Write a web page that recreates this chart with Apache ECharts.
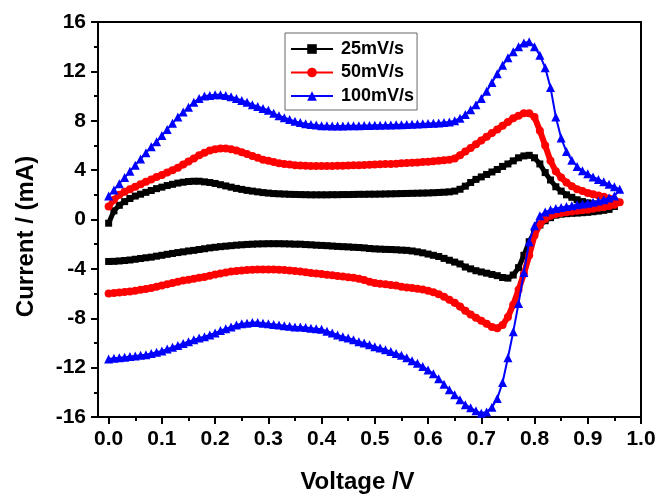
<!DOCTYPE html>
<html><head><meta charset="utf-8">
<script src="https://cdn.jsdelivr.net/npm/echarts@6/dist/echarts.min.js"></script>
<style>html,body{margin:0;padding:0;background:#fff}#c{width:659px;height:494px}</style>
</head><body><div id="c"></div>
<script>
const voltage = [0.00,0.01,0.02,0.03,0.04,0.05,0.06,0.07,0.08,0.09,0.10,0.11,0.12,0.13,0.14,0.15,0.16,0.17,0.18,0.19,0.20,0.21,0.22,0.23,0.24,0.25,0.26,0.27,0.28,0.29,0.30,0.31,0.32,0.33,0.34,0.35,0.36,0.37,0.38,0.39,0.40,0.41,0.42,0.43,0.44,0.45,0.46,0.47,0.48,0.49,0.50,0.51,0.52,0.53,0.54,0.55,0.56,0.57,0.58,0.59,0.60,0.61,0.62,0.63,0.64,0.65,0.66,0.67,0.68,0.69,0.70,0.71,0.72,0.73,0.74,0.75,0.76,0.77,0.78,0.79,0.80,0.81,0.82,0.83,0.84,0.85,0.86,0.87,0.88,0.89,0.90,0.91,0.92,0.93,0.94,0.95,0.96];

// 25 mV/s : anodic sweep 0.00 -> 0.95 V, cathodic sweep 0.94 -> 0.00 V
const black25Forward = [-0.3,0.7,1.15,1.45,1.7,1.9,2.05,2.2,2.35,2.5,2.62,2.75,2.85,2.95,3.02,3.08,3.1,3.1,3.05,3.0,2.92,2.82,2.72,2.62,2.52,2.44,2.36,2.3,2.24,2.18,2.14,2.1,2.08,2.06,2.04,2.03,2.02,2.01,2.0,2.0,2.0,2.0,2.01,2.01,2.02,2.02,2.03,2.04,2.04,2.05,2.05,2.06,2.07,2.08,2.09,2.1,2.11,2.12,2.13,2.14,2.15,2.17,2.19,2.21,2.24,2.3,2.45,2.7,3.0,3.25,3.45,3.65,3.85,4.05,4.3,4.5,4.75,5.0,5.15,5.2,5.0,4.5,3.8,3.2,2.65,2.3,2.0,1.8,1.6,1.45,1.35,1.27,1.2,1.15,1.1,1.05];
const black25Reverse = [0.82,0.74,0.68,0.63,0.58,0.55,0.52,0.5,0.47,0.43,0.35,0.15,-0.1,-0.45,-1.0,-1.8,-2.9,-3.9,-4.5,-4.75,-4.7,-4.55,-4.45,-4.35,-4.25,-4.15,-4.0,-3.85,-3.6,-3.45,-3.3,-3.15,-3.0,-2.9,-2.8,-2.7,-2.62,-2.55,-2.5,-2.48,-2.45,-2.43,-2.42,-2.4,-2.38,-2.35,-2.3,-2.27,-2.25,-2.22,-2.2,-2.18,-2.15,-2.12,-2.1,-2.08,-2.05,-2.03,-2.0,-2.0,-1.98,-1.97,-1.96,-1.96,-1.96,-1.97,-1.98,-2.0,-2.02,-2.05,-2.08,-2.12,-2.16,-2.2,-2.25,-2.3,-2.37,-2.43,-2.5,-2.55,-2.62,-2.68,-2.75,-2.82,-2.9,-2.97,-3.05,-3.1,-3.16,-3.22,-3.28,-3.32,-3.36,-3.39,-3.4];

// 50 mV/s : anodic 0.00 -> 0.96 V, cathodic 0.95 -> 0.00 V
const red50Forward = [1.05,1.6,2.0,2.25,2.45,2.65,2.85,3.05,3.25,3.45,3.6,3.8,4.0,4.2,4.45,4.7,4.95,5.2,5.4,5.6,5.7,5.75,5.75,5.7,5.6,5.45,5.3,5.15,5.0,4.85,4.75,4.65,4.55,4.5,4.45,4.4,4.37,4.35,4.33,4.33,4.33,4.33,4.34,4.35,4.36,4.37,4.39,4.4,4.42,4.43,4.45,4.47,4.49,4.5,4.52,4.55,4.57,4.6,4.62,4.65,4.68,4.71,4.75,4.8,4.85,4.95,5.2,5.5,5.8,6.1,6.4,6.7,7.0,7.3,7.6,7.9,8.2,8.4,8.6,8.6,8.3,7.2,6.0,4.75,3.9,3.4,3.0,2.7,2.45,2.3,2.15,2.05,1.95,1.85,1.7,1.55,1.4];
const red50Reverse = [1.2,1.1,1.0,0.95,0.88,0.8,0.75,0.7,0.65,0.58,0.52,0.45,0.3,0.05,-0.4,-1.3,-2.9,-4.4,-5.7,-6.9,-7.9,-8.55,-8.8,-8.7,-8.45,-8.2,-7.95,-7.7,-7.4,-7.05,-6.75,-6.5,-6.25,-6.05,-5.9,-5.78,-5.68,-5.6,-5.55,-5.5,-5.45,-5.35,-5.3,-5.25,-5.2,-5.15,-5.05,-4.9,-4.8,-4.72,-4.67,-4.62,-4.57,-4.52,-4.47,-4.42,-4.38,-4.33,-4.28,-4.22,-4.17,-4.13,-4.1,-4.08,-4.06,-4.05,-4.05,-4.05,-4.07,-4.1,-4.13,-4.17,-4.22,-4.3,-4.38,-4.45,-4.55,-4.65,-4.72,-4.8,-4.88,-4.95,-5.05,-5.15,-5.25,-5.35,-5.45,-5.55,-5.63,-5.7,-5.77,-5.83,-5.88,-5.92,-5.96,-6.0];

// 100 mV/s : anodic 0.00 -> 0.96 V, cathodic 0.95 -> 0.00 V
const blue100Forward = [1.9,2.4,2.9,3.4,3.9,4.4,4.9,5.4,5.9,6.3,6.8,7.3,7.8,8.3,8.7,9.1,9.5,9.8,10.0,10.05,10.1,10.1,10.05,9.95,9.8,9.65,9.5,9.3,9.15,9.0,8.85,8.6,8.4,8.25,8.1,7.95,7.85,7.75,7.7,7.65,7.6,7.6,7.58,7.58,7.58,7.6,7.6,7.6,7.62,7.62,7.63,7.64,7.65,7.66,7.67,7.68,7.7,7.72,7.73,7.75,7.77,7.8,7.82,7.85,7.9,8.0,8.2,8.5,8.9,9.3,9.8,10.4,11.1,11.8,12.5,13.1,13.6,14.0,14.3,14.4,14.0,13.3,12.3,10.7,8.3,6.6,5.5,4.8,4.3,3.95,3.7,3.45,3.25,3.05,2.85,2.65,2.45];
const blue100Reverse = [1.9,1.75,1.6,1.5,1.4,1.32,1.25,1.2,1.12,1.05,0.98,0.9,0.78,0.6,0.3,-0.5,-1.8,-4.3,-6.8,-9.1,-11.2,-13.2,-14.5,-15.2,-15.6,-15.7,-15.5,-15.25,-15.0,-14.6,-14.2,-13.8,-13.35,-12.9,-12.5,-12.2,-11.9,-11.65,-11.45,-11.2,-11.0,-10.85,-10.7,-10.55,-10.4,-10.3,-10.15,-10.0,-9.9,-9.75,-9.6,-9.5,-9.35,-9.2,-9.05,-8.9,-8.85,-8.8,-8.75,-8.7,-8.7,-8.65,-8.6,-8.55,-8.5,-8.45,-8.4,-8.35,-8.35,-8.4,-8.45,-8.55,-8.7,-8.85,-9.0,-9.2,-9.35,-9.5,-9.6,-9.75,-9.9,-10.05,-10.2,-10.35,-10.5,-10.65,-10.75,-10.85,-10.95,-11.0,-11.05,-11.1,-11.15,-11.2,-11.25,-11.3];

const xMajorTicks = [0.0,0.1,0.2,0.3,0.4,0.5,0.6,0.7,0.8,0.9,1.0];
const xMinorTicks = [0.05,0.15,0.25,0.35,0.45,0.55,0.65,0.75,0.85,0.95];
const seriesNames = ['25mV/s','50mV/s','100mV/s'];

function loop(fwd, rev) {
  const f = fwd.map((v, i) => [voltage[i], v]);
  const rv = voltage.slice(0, rev.length).reverse();
  const r = rev.map((v, i) => [rv[i], v]);
  return f.concat(r);
}

const FONT = '"Liberation Sans", Arial, sans-serif';
const chart = echarts.init(document.getElementById('c'), null, {renderer: 'canvas'});
const axisLineStyle = {color: '#000', width: 2};

chart.setOption({
  animation: false,
  backgroundColor: '#fff',
  grid: {left: 98, right: 18, top: 22, bottom: 77, outerBoundsMode: 'none', containLabel: false,
    show: true, borderColor: '#000', borderWidth: 2, backgroundColor: 'transparent'},
  legend: {
    orient: 'vertical', left: 285, top: 33,
    data: seriesNames,
    itemWidth: 42, itemHeight: 12, itemGap: 5.5,
    padding: [7, 3, 5, 5],
    borderColor: '#666', borderWidth: 1,
    lineStyle: {width: 2},
    textStyle: {fontFamily: FONT, fontWeight: 'bold', fontSize: 18, lineHeight: 18, color: '#000', padding: [0,0,0,3]}
  },
  xAxis: [{
    type: 'value', min: -0.02, max: 1.0, position: 'bottom',
    name: 'Voltage /V', nameLocation: 'middle', nameGap: 53,
    nameTextStyle: {fontFamily: FONT, fontWeight: 'bold', fontSize: 24, color: '#000', padding: [0, 24, 0, 0]},
    axisLine: {show: true, onZero: false, lineStyle: axisLineStyle},
    axisTick: {show: true, inside: false, length: 7, lineStyle: axisLineStyle, customValues: xMajorTicks},
    axisLabel: {show: true, margin: 12, customValues: xMajorTicks, fontFamily: FONT, fontWeight: 'bold', fontSize: 21, color: '#000',
      formatter: v => v.toFixed(1)},
    splitLine: {show: false}
  }, {
    type: 'value', min: -0.02, max: 1.0, position: 'bottom', gridIndex: 0,
    axisLine: {show: false, onZero: false},
    axisTick: {show: true, inside: false, length: 4, lineStyle: axisLineStyle, customValues: xMinorTicks},
    axisLabel: {show: false},
    splitLine: {show: false}
  }],
  yAxis: {
    type: 'value', min: -16, max: 16, interval: 4,
    name: 'Current / (mA)', nameLocation: 'middle', nameGap: 60,
    nameTextStyle: {fontFamily: FONT, fontWeight: 'bold', fontSize: 24, color: '#000', padding: [0, 0, 0, -34]},
    axisLine: {show: true, onZero: false, lineStyle: axisLineStyle},
    axisTick: {show: true, inside: false, length: 7, lineStyle: axisLineStyle},
    minorTick: {show: true, splitNumber: 2, length: 4, lineStyle: axisLineStyle},
    axisLabel: {margin: 12, fontFamily: FONT, fontWeight: 'bold', fontSize: 21, color: '#000'},
    splitLine: {show: false}
  },
  series: [{
    name: seriesNames[0], type: 'line', data: loop(black25Forward, black25Reverse),
    symbol: 'rect', symbolSize: 7, showAllSymbol: true,
    lineStyle: {color: '#000', width: 5}, itemStyle: {color: '#000'}, z: 2
  }, {
    name: seriesNames[1], type: 'line', data: loop(red50Forward, red50Reverse),
    symbol: 'circle', symbolSize: 8, showAllSymbol: true,
    lineStyle: {color: '#ff0000', width: 6}, itemStyle: {color: '#ff0000'}, z: 3
  }, {
    name: seriesNames[2], type: 'line', data: loop(blue100Forward, blue100Reverse),
    symbol: 'triangle', symbolSize: 9, showAllSymbol: true,
    lineStyle: {color: '#0000ff', width: 2}, itemStyle: {color: '#0000ff'}, z: 4
  }]
});
</script></body></html>
